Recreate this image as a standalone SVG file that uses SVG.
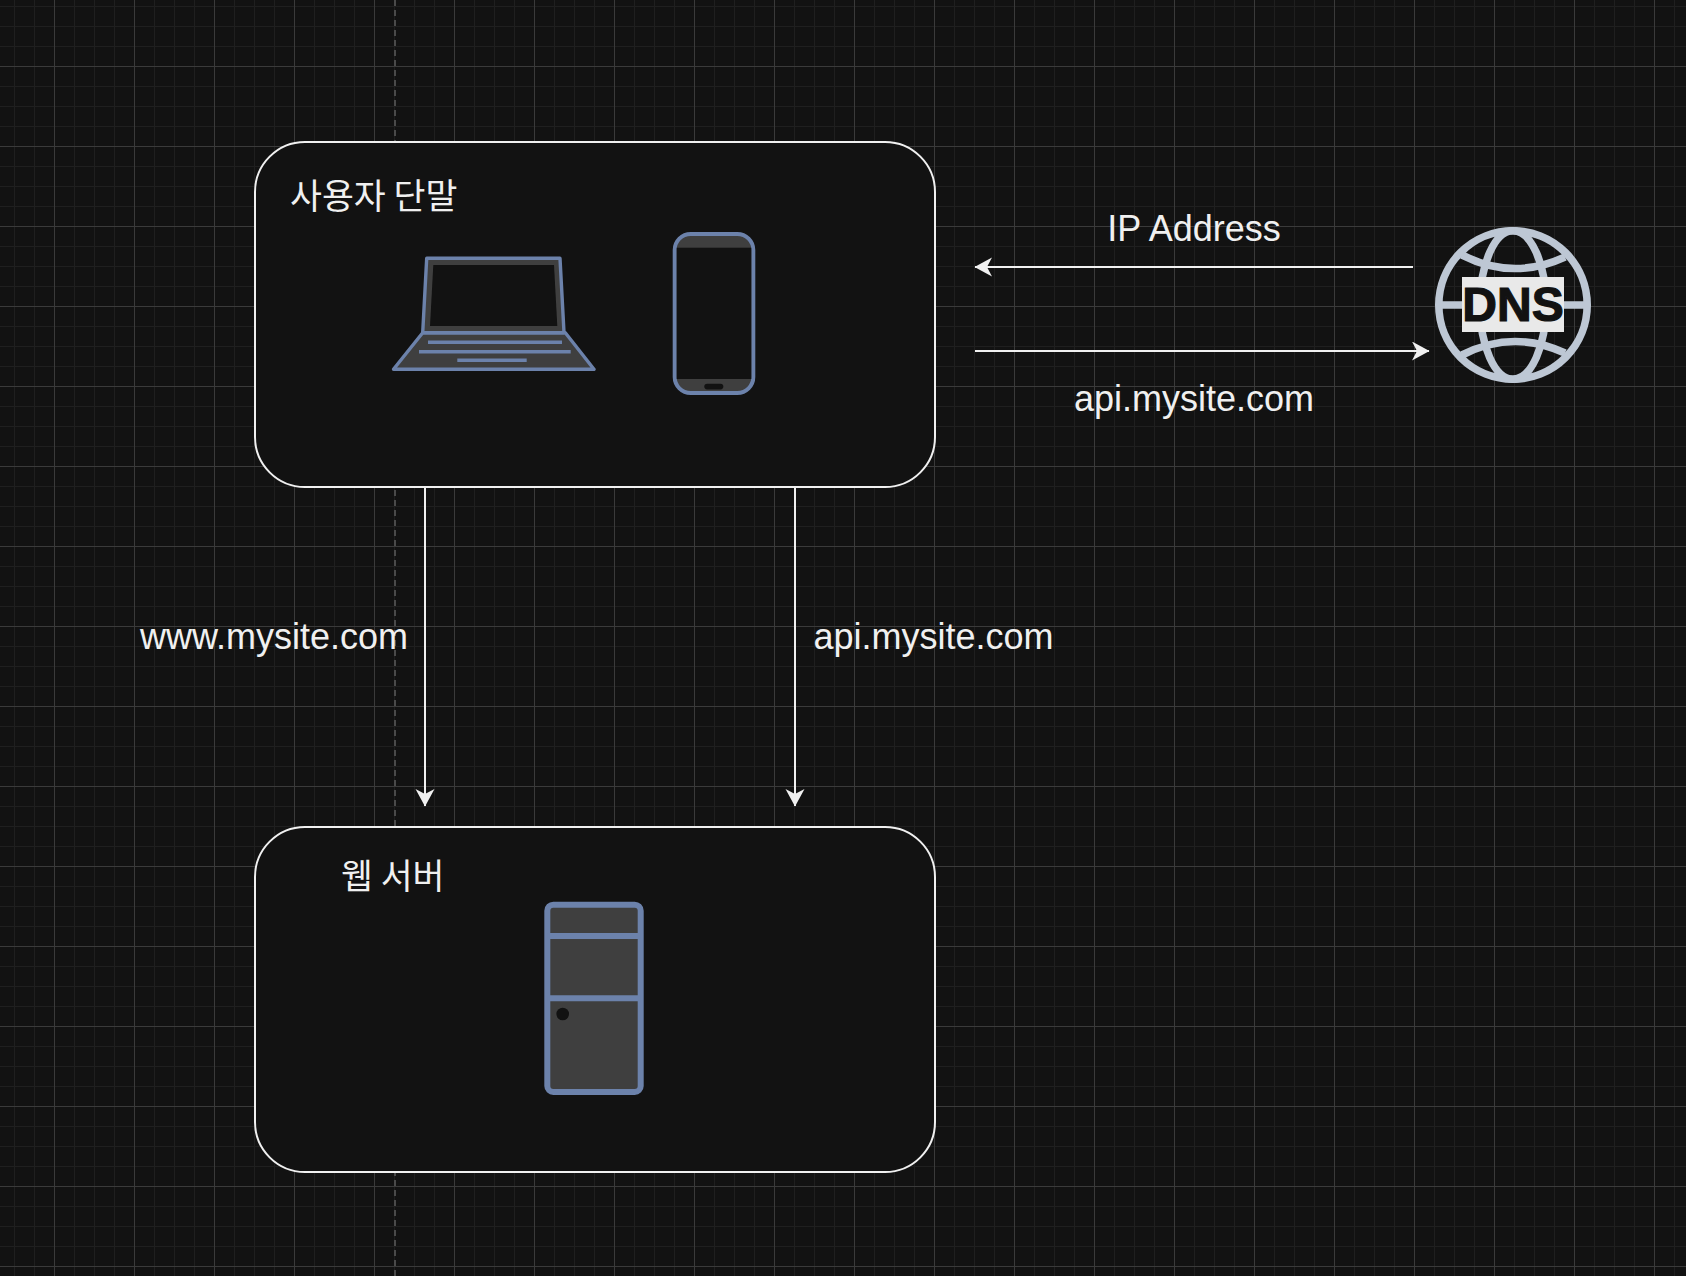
<svg xmlns="http://www.w3.org/2000/svg" width="1686" height="1276" viewBox="0 0 1686 1276">
  <style>
    .box { fill: #121212; stroke: #f0f0f0; stroke-width: 2; }
    .icon { fill: #3f3f3f; stroke: #6c82ab; stroke-linejoin: round; }
    .screen { fill: #121212; stroke: none; }
    .bar { fill: none; stroke: #6c82ab; stroke-width: 3.4; }
    .link { fill: none; stroke: #f0f0f0; stroke-width: 2; }
    .head { fill: #f0f0f0; stroke: none; }
    .label { font-family: "Liberation Sans", Arial, sans-serif; font-size: 36px; fill: #f0f0f0; }
    .ko { font-family: "Noto Sans CJK KR", "Liberation Sans", sans-serif; font-size: 34.700px; font-weight: 400; fill: #f0f0f0; }
    .globe { fill: none; stroke: #bdc7d4; stroke-width: 7.600; }
  </style>
  <defs>
    <pattern id="fine" width="20" height="20" patternUnits="userSpaceOnUse" x="14" y="6">
      <path d="M0 0H20M0 0V20" fill="none" stroke="#1f1f1f" stroke-width="2"/>
    </pattern>
    <pattern id="coarse" width="80" height="80" patternUnits="userSpaceOnUse" x="54" y="66">
      <path d="M0 0.5H80M0.5 0V80" fill="none" stroke="#3a3a3a" stroke-width="1"/>
    </pattern>
    <marker id="arrow" markerUnits="userSpaceOnUse" markerWidth="18" markerHeight="20" refX="17" refY="9.500" orient="auto">
      <path class="head" d="M0 0L17.500 9.500L0 19L5 9.500Z"/>
    </marker>
  </defs>

  <g id="background">
    <rect width="1686" height="1276" fill="#121212"/>
    <rect width="1686" height="1276" fill="url(#fine)"/>
    <rect width="1686" height="1276" fill="url(#coarse)"/>
    <path d="M395 0V1276" fill="none" stroke="#4a4a4a" stroke-width="2" stroke-dasharray="6 4"/>
  </g>

  <g id="user-device">
    <rect class="box" x="255" y="142" width="680" height="345" rx="50"/>
    <text class="ko" x="290" y="209">사용자 단말</text>
    <g id="laptop">
      <path class="icon" stroke-width="3.400" d="M393.500 369.300L422.700 332.700H565.300L594 369.300Z"/>
      <path class="icon" stroke-width="3.400" d="M426.700 258.300H560L564 332.700H422.700Z"/>
      <path class="screen" d="M433.300 265H554L557.300 326H430Z"/>
      <path class="bar" d="M428 342.300H562M419 351.700H570.700M457.300 360.300H526.700"/>
    </g>
    <g id="phone">
      <rect class="icon" stroke-width="4" x="674.700" y="234" width="78.600" height="159" rx="16"/>
      <rect class="screen" x="676.700" y="247.700" width="74.600" height="131.300"/>
      <rect class="screen" x="704.300" y="383.700" width="19" height="5.700" rx="2.800"/>
    </g>
  </g>

  <g id="web-server">
    <rect class="box" x="255" y="827" width="680" height="345" rx="50"/>
    <text class="ko" x="341" y="889">웹 서버</text>
    <g id="server">
      <rect class="icon" stroke-width="6" x="547.300" y="904.700" width="93.400" height="187.300" rx="6"/>
      <path fill="none" stroke="#6c82ab" stroke-width="6" d="M547.300 936H640.700M547.300 998.300H640.700"/>
      <circle class="screen" cx="562.700" cy="1014" r="6.300"/>
    </g>
  </g>

  <g id="dns">
    <circle class="globe" cx="1513" cy="305" r="74.200"/>
    <ellipse class="globe" cx="1513" cy="305" rx="33" ry="74.200"/>
    <path class="globe" d="M1462 255Q1513 281 1565 257M1462 355Q1513 329 1565 353M1440 305H1586"/>
    <rect x="1462" y="277" width="102" height="55" fill="#e9e9e9"/>
    <text x="1513" y="321" text-anchor="middle" font-family="'Liberation Sans', Arial, sans-serif" font-weight="700" font-size="48" fill="#121212" stroke="#121212" stroke-width="1.200">DNS</text>
  </g>

  <g id="connectors">
    <path class="link" marker-end="url(#arrow)" d="M1413 267H975"/>
    <path class="link" marker-end="url(#arrow)" d="M975 351H1429"/>
    <path class="link" marker-end="url(#arrow)" d="M425 487V806"/>
    <path class="link" marker-end="url(#arrow)" d="M795 487V806"/>
  </g>

  <g id="connector-labels">
    <text class="label" x="1194" y="241" text-anchor="middle">IP Address</text>
    <text class="label" x="1194" y="411" text-anchor="middle">api.mysite.com</text>
    <text class="label" x="274" y="649" text-anchor="middle">www.mysite.com</text>
    <text class="label" x="933.500" y="649" text-anchor="middle">api.mysite.com</text>
  </g>
</svg>
